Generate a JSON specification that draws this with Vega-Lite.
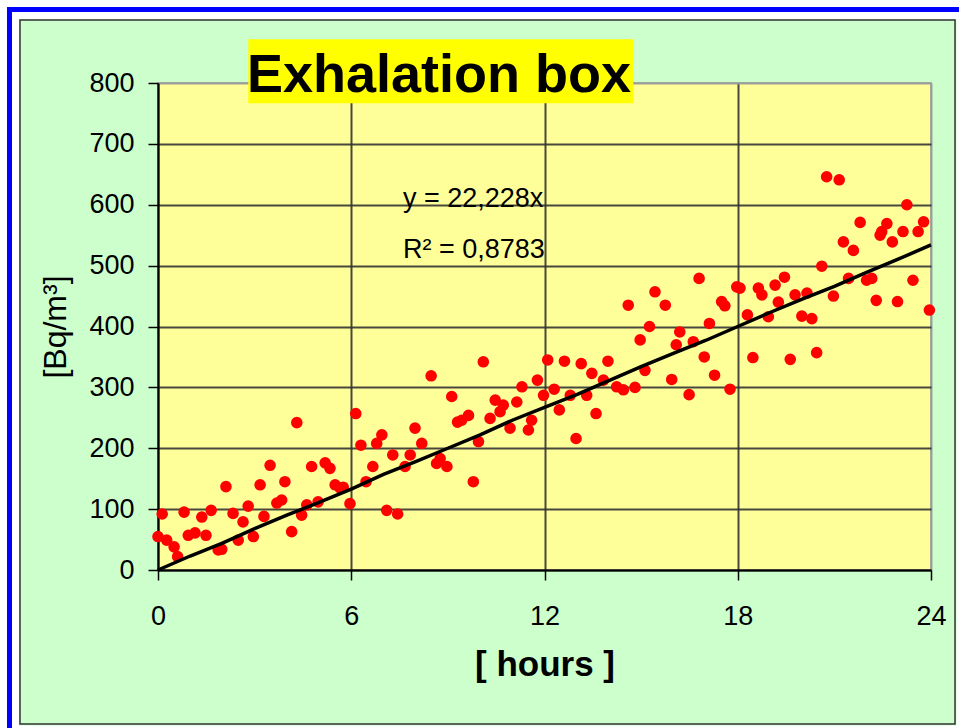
{
  "$schema": "https://vega.github.io/schema/vega-lite/v6.json",
  "width": 773,
  "height": 487,
  "autosize": {"type": "none"},
  "padding": {"left": 158, "top": 83, "right": 28, "bottom": 158},
  "background": "#ccffcc",
  "config": {
    "font": "Liberation Sans",
    "view": {"fill": "#ffff99", "stroke": "#999999", "strokeWidth": 1.5}
  },
  "datasets": {
    "points": [
      {"hours": 0.0, "bq": 55}, {"hours": 0.13, "bq": 92}, {"hours": 0.27, "bq": 49}, {"hours": 0.5, "bq": 38},
      {"hours": 0.61, "bq": 22}, {"hours": 0.81, "bq": 95}, {"hours": 0.94, "bq": 57}, {"hours": 1.15, "bq": 61},
      {"hours": 1.36, "bq": 87}, {"hours": 1.49, "bq": 57}, {"hours": 1.65, "bq": 98}, {"hours": 1.87, "bq": 33},
      {"hours": 1.98, "bq": 34}, {"hours": 2.11, "bq": 137}, {"hours": 2.33, "bq": 93}, {"hours": 2.49, "bq": 49},
      {"hours": 2.64, "bq": 79}, {"hours": 2.8, "bq": 105}, {"hours": 2.96, "bq": 55}, {"hours": 3.17, "bq": 140},
      {"hours": 3.29, "bq": 88}, {"hours": 3.48, "bq": 172}, {"hours": 3.69, "bq": 110}, {"hours": 3.84, "bq": 115},
      {"hours": 3.94, "bq": 145}, {"hours": 4.15, "bq": 63}, {"hours": 4.31, "bq": 242}, {"hours": 4.46, "bq": 90},
      {"hours": 4.62, "bq": 107}, {"hours": 4.77, "bq": 170}, {"hours": 4.97, "bq": 112}, {"hours": 5.19, "bq": 176},
      {"hours": 5.34, "bq": 167}, {"hours": 5.5, "bq": 140}, {"hours": 5.65, "bq": 135}, {"hours": 5.75, "bq": 136},
      {"hours": 5.96, "bq": 109}, {"hours": 6.14, "bq": 257}, {"hours": 6.3, "bq": 205}, {"hours": 6.46, "bq": 145},
      {"hours": 6.67, "bq": 170}, {"hours": 6.79, "bq": 208}, {"hours": 6.95, "bq": 222}, {"hours": 7.1, "bq": 98},
      {"hours": 7.29, "bq": 189}, {"hours": 7.44, "bq": 92}, {"hours": 7.67, "bq": 170}, {"hours": 7.83, "bq": 189},
      {"hours": 7.98, "bq": 233}, {"hours": 8.19, "bq": 208}, {"hours": 8.48, "bq": 319}, {"hours": 8.65, "bq": 175},
      {"hours": 8.76, "bq": 183}, {"hours": 8.97, "bq": 170}, {"hours": 9.12, "bq": 285}, {"hours": 9.3, "bq": 243},
      {"hours": 9.43, "bq": 246}, {"hours": 9.64, "bq": 254}, {"hours": 9.79, "bq": 145}, {"hours": 9.95, "bq": 211},
      {"hours": 10.1, "bq": 342}, {"hours": 10.31, "bq": 249}, {"hours": 10.47, "bq": 279}, {"hours": 10.62, "bq": 260},
      {"hours": 10.72, "bq": 271}, {"hours": 10.93, "bq": 233}, {"hours": 11.14, "bq": 276}, {"hours": 11.3, "bq": 301},
      {"hours": 11.5, "bq": 230}, {"hours": 11.6, "bq": 246}, {"hours": 11.78, "bq": 312}, {"hours": 11.97, "bq": 287},
      {"hours": 12.1, "bq": 345}, {"hours": 12.3, "bq": 297}, {"hours": 12.46, "bq": 263}, {"hours": 12.62, "bq": 343},
      {"hours": 12.8, "bq": 287}, {"hours": 12.98, "bq": 216}, {"hours": 13.14, "bq": 339}, {"hours": 13.31, "bq": 287},
      {"hours": 13.47, "bq": 323}, {"hours": 13.6, "bq": 257}, {"hours": 13.83, "bq": 312}, {"hours": 13.97, "bq": 343},
      {"hours": 14.24, "bq": 301}, {"hours": 14.45, "bq": 296}, {"hours": 14.6, "bq": 435}, {"hours": 14.81, "bq": 300},
      {"hours": 14.97, "bq": 378}, {"hours": 15.12, "bq": 328}, {"hours": 15.26, "bq": 400}, {"hours": 15.43, "bq": 457},
      {"hours": 15.75, "bq": 435}, {"hours": 15.95, "bq": 313}, {"hours": 16.09, "bq": 370}, {"hours": 16.2, "bq": 391},
      {"hours": 16.49, "bq": 288}, {"hours": 16.62, "bq": 375}, {"hours": 16.8, "bq": 479}, {"hours": 16.96, "bq": 350},
      {"hours": 17.12, "bq": 405}, {"hours": 17.28, "bq": 320}, {"hours": 17.5, "bq": 441}, {"hours": 17.6, "bq": 434},
      {"hours": 17.76, "bq": 297}, {"hours": 17.97, "bq": 465}, {"hours": 18.07, "bq": 463}, {"hours": 18.3, "bq": 419},
      {"hours": 18.47, "bq": 349}, {"hours": 18.64, "bq": 463}, {"hours": 18.75, "bq": 452}, {"hours": 18.95, "bq": 416},
      {"hours": 19.16, "bq": 468}, {"hours": 19.26, "bq": 440}, {"hours": 19.45, "bq": 481}, {"hours": 19.63, "bq": 346},
      {"hours": 19.78, "bq": 452}, {"hours": 19.99, "bq": 417}, {"hours": 20.15, "bq": 455}, {"hours": 20.3, "bq": 413},
      {"hours": 20.45, "bq": 357}, {"hours": 20.61, "bq": 499}, {"hours": 20.76, "bq": 646}, {"hours": 20.97, "bq": 450},
      {"hours": 21.15, "bq": 641}, {"hours": 21.28, "bq": 539}, {"hours": 21.44, "bq": 479}, {"hours": 21.59, "bq": 525},
      {"hours": 21.8, "bq": 571}, {"hours": 22.0, "bq": 476}, {"hours": 22.16, "bq": 479}, {"hours": 22.3, "bq": 443},
      {"hours": 22.42, "bq": 550}, {"hours": 22.47, "bq": 556}, {"hours": 22.63, "bq": 569}, {"hours": 22.8, "bq": 539},
      {"hours": 22.96, "bq": 441}, {"hours": 23.13, "bq": 556}, {"hours": 23.25, "bq": 600}, {"hours": 23.44, "bq": 476},
      {"hours": 23.6, "bq": 556}, {"hours": 23.77, "bq": 572}, {"hours": 23.95, "bq": 427}
    ],
    "trend": [
      {"hours": 0, "bq": 0}, {"hours": 1, "bq": 23}, {"hours": 2, "bq": 44}, {"hours": 3, "bq": 68},
      {"hours": 4, "bq": 90}, {"hours": 5, "bq": 111}, {"hours": 6, "bq": 133}, {"hours": 7, "bq": 157},
      {"hours": 8, "bq": 178}, {"hours": 9, "bq": 200}, {"hours": 10, "bq": 222}, {"hours": 11, "bq": 246},
      {"hours": 12, "bq": 267}, {"hours": 13, "bq": 288}, {"hours": 14, "bq": 311}, {"hours": 15, "bq": 334},
      {"hours": 16, "bq": 356}, {"hours": 17, "bq": 377}, {"hours": 18, "bq": 400}, {"hours": 19, "bq": 423},
      {"hours": 20, "bq": 445}, {"hours": 21, "bq": 466}, {"hours": 22, "bq": 489}, {"hours": 23, "bq": 511},
      {"hours": 24, "bq": 534}
    ],
    "one": [{}]
  },
  "layer": [
    {
      "data": {"name": "one"},
      "mark": {"type": "rect", "filled": false, "color": "#ffffff", "strokeWidth": 19, "clip": false},
      "encoding": {
        "x": {"datum": -4.611, "type": "quantitative", "scale": {"domain": [0, 24], "nice": false}, "title": "[ hours ]"},
        "x2": {"datum": 25.087},
        "y": {"datum": 920.7, "type": "quantitative", "scale": {"domain": [0, 800], "nice": false}, "title": "[Bq/m³]"},
        "y2": {"datum": -271.0}
      }
    },
    {
      "data": {"name": "one"},
      "mark": {"type": "rect", "filled": false, "color": "#0000ff", "strokeWidth": 5, "clip": false},
      "encoding": {
        "x": {"datum": -4.611, "type": "quantitative", "scale": {"domain": [0, 24], "nice": false}, "title": "[ hours ]"},
        "x2": {"datum": 26.14},
        "y": {"datum": 920.7, "type": "quantitative", "scale": {"domain": [0, 800], "nice": false}, "title": "[Bq/m³]"},
        "y2": {"datum": -377.8}
      }
    },
    {
      "data": {"name": "one"},
      "mark": {"type": "rect", "filled": false, "color": "#333333", "strokeWidth": 1.5, "clip": false},
      "encoding": {
        "x": {"datum": -4.285, "type": "quantitative", "scale": {"domain": [0, 24], "nice": false}, "title": "[ hours ]"},
        "x2": {"datum": 24.746},
        "y": {"datum": 903.5, "type": "quantitative", "scale": {"domain": [0, 800], "nice": false}, "title": "[Bq/m³]"},
        "y2": {"datum": -253.0}
      }
    },
    {
      "data": {"name": "points"},
      "mark": {"type": "circle", "color": "#ff0000", "size": 135, "opacity": 1},
      "encoding": {
        "x": {
          "field": "hours", "type": "quantitative",
          "scale": {"domain": [0, 24], "nice": false},
          "title": "[ hours ]",
          "axis": {
            "values": [0, 6, 12, 18, 24],
            "labelFlush": false,
            "titleFontSize": 35, "titleFontWeight": "bold", "titleColor": "#000000", "titlePadding": 18,
            "labelFontSize": 27, "labelColor": "#000000", "labelPadding": 23, "labelFont": "Liberation Sans",
            "tickSize": 10, "tickColor": "#000000", "tickWidth": 1.5,
            "domainColor": "#000000", "domainWidth": 2,
            "grid": true,
            "gridColor": {"condition": {"test": "datum.value === 24", "value": "#999999"}, "value": "#333333"},
            "gridWidth": 2, "gridOpacity": 0.9
          }
        },
        "y": {
          "field": "bq", "type": "quantitative",
          "scale": {"domain": [0, 800], "nice": false},
          "title": "[Bq/m³]",
          "axis": {
            "values": [0, 100, 200, 300, 400, 500, 600, 700, 800],
            "labelFlush": false,
            "titleFontSize": 32, "titleFontWeight": "normal", "titleColor": "#000000", "titlePadding": 16,
            "labelFontSize": 27, "labelColor": "#000000", "labelPadding": 14, "labelFont": "Liberation Sans",
            "tickSize": 10, "tickColor": "#000000", "tickWidth": 1.5,
            "domainColor": "#000000", "domainWidth": 2,
            "grid": true,
            "gridColor": {"condition": {"test": "datum.value === 800", "value": "#999999"}, "value": "#333333"},
            "gridWidth": 2, "gridOpacity": 0.9
          }
        }
      }
    },
    {
      "data": {"name": "trend"},
      "mark": {"type": "line", "color": "#000000", "strokeWidth": 3.5},
      "encoding": {
        "x": {"field": "hours", "type": "quantitative", "scale": {"domain": [0, 24], "nice": false}, "title": "[ hours ]"},
        "y": {"field": "bq", "type": "quantitative", "scale": {"domain": [0, 800], "nice": false}, "title": "[Bq/m³]"}
      }
    },
    {
      "data": {"name": "one"},
      "mark": {"type": "rect", "color": "#ffff00", "clip": false},
      "encoding": {
        "x": {"datum": 2.804, "type": "quantitative", "scale": {"domain": [0, 24], "nice": false}, "title": "[ hours ]"},
        "x2": {"datum": 14.757},
        "y": {"datum": 871.8, "type": "quantitative", "scale": {"domain": [0, 800], "nice": false}, "title": "[Bq/m³]"},
        "y2": {"datum": 766.6}
      }
    },
    {
      "data": {"name": "one"},
      "mark": {"type": "text", "font": "Liberation Sans", "fontSize": 54, "fontWeight": "bold", "color": "#000000", "align": "center", "baseline": "alphabetic", "clip": false},
      "encoding": {
        "x": {"datum": 8.724, "type": "quantitative", "scale": {"domain": [0, 24], "nice": false}, "title": "[ hours ]"},
        "y": {"datum": 785.7, "type": "quantitative", "scale": {"domain": [0, 800], "nice": false}, "title": "[Bq/m³]"},
        "text": {"value": "Exhalation box"}
      }
    },
    {
      "data": {"name": "one"},
      "mark": {"type": "text", "font": "Liberation Sans", "fontSize": 27, "color": "#000000", "align": "left", "baseline": "alphabetic"},
      "encoding": {
        "x": {"datum": 7.607, "type": "quantitative", "scale": {"domain": [0, 24], "nice": false}, "title": "[ hours ]"},
        "y": {"datum": 596.8, "type": "quantitative", "scale": {"domain": [0, 800], "nice": false}, "title": "[Bq/m³]"},
        "text": {"value": "y = 22,228x"}
      }
    },
    {
      "data": {"name": "one"},
      "mark": {"type": "text", "font": "Liberation Sans", "fontSize": 27, "color": "#000000", "align": "left", "baseline": "alphabetic"},
      "encoding": {
        "x": {"datum": 7.607, "type": "quantitative", "scale": {"domain": [0, 24], "nice": false}, "title": "[ hours ]"},
        "y": {"datum": 512.0, "type": "quantitative", "scale": {"domain": [0, 800], "nice": false}, "title": "[Bq/m³]"},
        "text": {"value": "R² = 0,8783"}
      }
    }
  ]
}
